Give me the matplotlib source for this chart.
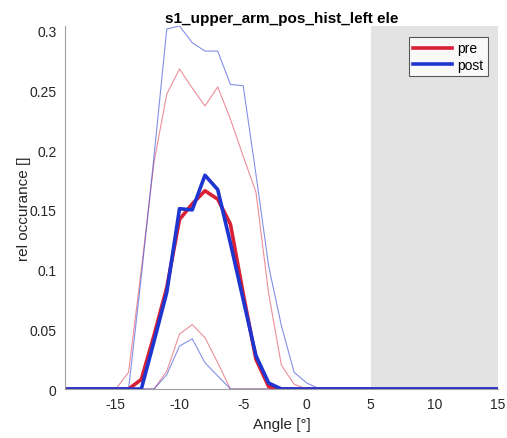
import numpy as np
import matplotlib
matplotlib.use("Agg")
import matplotlib.pyplot as plt

plt.rcParams['font.family'] = ['Liberation Sans', 'DejaVu Sans']
plt.rcParams['axes.unicode_minus'] = False

angles = list(range(-19, 16))

#            -19..-16      -15   -14    -13    -12    -11    -10    -9     -8     -7     -6     -5     -4     -3     -2    -1     0     1..15
pre_mean  = [0, 0, 0, 0,   0,    0.0,   0.008, 0.045, 0.085, 0.142, 0.155, 0.166, 0.159, 0.138, 0.08,  0.025, 0.002, 0,    0,    0] + [0] * 15
pre_hi    = [0, 0, 0, 0,   0,    0.014, 0.10,  0.19,  0.247, 0.268, 0.252, 0.237, 0.253, 0.226, 0.195, 0.165, 0.08,  0.02, 0.004, 0] + [0] * 15
pre_lo    = [0, 0, 0, 0,   0,    0,     0,     0,     0.015, 0.046, 0.054, 0.043, 0.022, 0,     0,     0,     0,     0,    0,    0] + [0] * 15
post_mean = [0, 0, 0, 0,   0,    0,     0,     0.04,  0.081, 0.151, 0.150, 0.179, 0.167, 0.122, 0.075, 0.028, 0.005, 0,    0,    0] + [0] * 15
post_hi   = [0, 0, 0, 0,   0,    0,     0.094, 0.195, 0.3015, 0.304, 0.29, 0.283, 0.283, 0.255, 0.254, 0.18,  0.103, 0.053, 0.014, 0.005] + [0] * 15
post_lo   = [0, 0, 0, 0,   0,    0,     0,     0,     0.012, 0.036, 0.042, 0.022, 0.011, 0,     0,     0,     0,     0,    0,    0] + [0] * 15

shade_range = (5, 15)
xticks = [-15, -10, -5, 0, 5, 10, 15]
yticks = [0, 0.05, 0.1, 0.15, 0.2, 0.25, 0.3]
ytick_labels = ['0', '0.05', '0.1', '0.15', '0.2', '0.25', '0.3']

red = '#d81f35'
blue = '#1f35d0'

fig = plt.figure(figsize=(5.07, 4.39), dpi=100)
ax = fig.add_axes([0.128, 0.1116, 0.854, 0.8269])

ax.axvspan(*shade_range, color='#e3e3e3', lw=0, zorder=0)

ax.plot(angles, pre_hi, color=red, lw=0.8, alpha=0.5)
ax.plot(angles, pre_lo, color=red, lw=0.8, alpha=0.5)
ax.plot(angles, post_hi, color=blue, lw=0.8, alpha=0.55)
ax.plot(angles, post_lo, color=blue, lw=0.8, alpha=0.55)
ax.plot(angles, pre_mean, color=red, lw=2.6, label='pre')
ax.plot(angles, post_mean, color=blue, lw=2.6, label='post')

ax.set_xlim(-19, 15)
ax.set_ylim(0, max(post_hi))
ax.set_xticks(xticks)
ax.set_yticks(yticks)
ax.set_yticklabels(ytick_labels)
ax.tick_params(length=0, labelsize=10, colors='#262626', pad=6)

for s in ['top', 'right']:
    ax.spines[s].set_visible(False)
for s in ['left', 'bottom']:
    ax.spines[s].set_color('#a0a0a0')
    ax.spines[s].set_linewidth(0.8)

ax.set_xlabel('Angle [°]', fontsize=11, color='#262626')
ax.set_ylabel('rel occurance []', fontsize=11, color='#262626', labelpad=-1)
ax.set_title('s1_upper_arm_pos_hist_left ele', fontsize=11, fontweight='bold', pad=3)

leg = ax.legend(loc='upper right', bbox_to_anchor=(0.977, 0.969), fontsize=10,
                frameon=True, fancybox=False, edgecolor='#333333', handlelength=2.8,
                borderpad=0.3, labelspacing=0.2, handletextpad=0.4, borderaxespad=0.0)
leg.get_frame().set_linewidth(0.8)

fig.savefig('out.png', dpi=100)
